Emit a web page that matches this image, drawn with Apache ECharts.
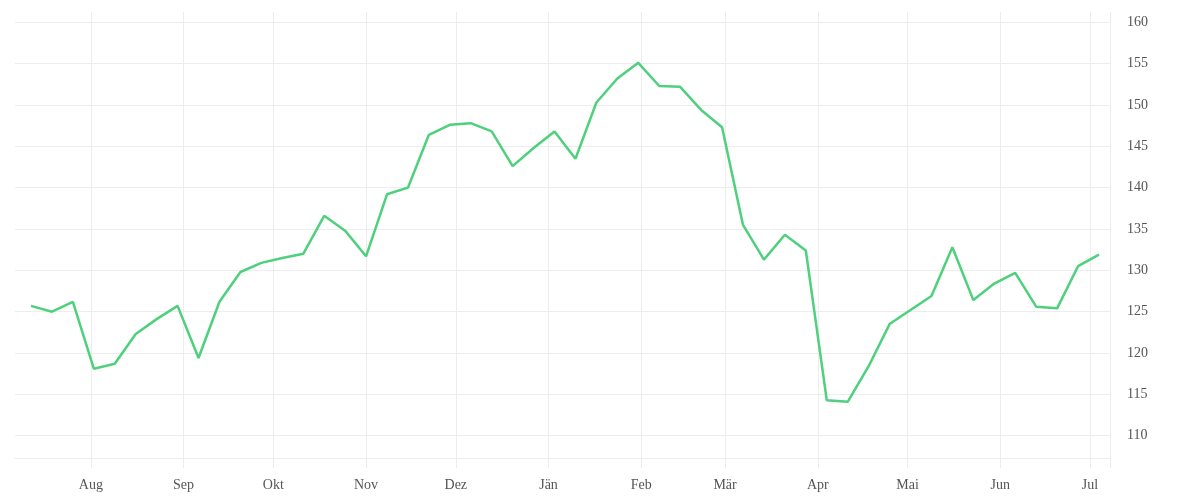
<!DOCTYPE html>
<html>
<head>
<meta charset="utf-8">
<script src="https://cdn.jsdelivr.net/npm/echarts@6/dist/echarts.min.js"></script>
<style>
	html, body { margin: 0; padding: 0; background: #fff; }
	#chart { width: 1200px; height: 500px; }
</style>
</head>
<body>
<div id="chart"></div>
<script>
/* Wochenwerte (Datum = Wochenbeginn) */
const weeks = [
	'2022-07-12', '2022-07-19', '2022-07-26', '2022-08-02', '2022-08-09', '2022-08-16',
	'2022-08-23', '2022-08-30', '2022-09-06', '2022-09-13', '2022-09-20', '2022-09-27',
	'2022-10-04', '2022-10-11', '2022-10-18', '2022-10-25', '2022-11-01', '2022-11-08',
	'2022-11-15', '2022-11-22', '2022-11-29', '2022-12-06', '2022-12-13', '2022-12-20',
	'2022-12-27', '2023-01-03', '2023-01-10', '2023-01-17', '2023-01-24', '2023-01-31',
	'2023-02-07', '2023-02-14', '2023-02-21', '2023-02-28', '2023-03-07', '2023-03-14',
	'2023-03-21', '2023-03-28', '2023-04-04', '2023-04-11', '2023-04-18', '2023-04-25',
	'2023-05-02', '2023-05-09', '2023-05-16', '2023-05-23', '2023-05-30', '2023-06-06',
	'2023-06-13', '2023-06-20', '2023-06-27', '2023-07-04'
];
const prices = [
	125.7, 125.0, 126.2, 118.1, 118.7, 122.3,
	124.1, 125.7, 119.4, 126.2, 129.8, 130.9,
	131.5, 132.0, 136.6, 134.8, 131.7, 139.2,
	140.0, 146.4, 147.6, 147.8, 146.8, 142.6,
	144.8, 146.8, 143.5, 150.3, 153.2, 155.1,
	152.3, 152.2, 149.4, 147.3, 135.5, 131.3,
	134.3, 132.4, 114.3, 114.1, 118.4, 123.5,
	125.2, 126.9, 132.8, 126.4, 128.4, 129.7,
	125.6, 125.4, 130.5, 131.9
];
/* Monatsbeschriftung (österreichisch) */
const monthNames = ['Jän', 'Feb', 'Mär', 'Apr', 'Mai', 'Jun', 'Jul', 'Aug', 'Sep', 'Okt', 'Nov', 'Dez'];
const monthTicks = [
	'2022-08-01', '2022-09-01', '2022-10-01', '2022-11-01', '2022-12-01', '2023-01-01',
	'2023-02-01', '2023-03-01', '2023-04-01', '2023-05-01', '2023-06-01', '2023-07-01'
];

const toTime = d => new Date(d + 'T00:00:00').getTime();
const xMin = new Date(2022, 6, 6, 15, 36).getTime();
const xMax = new Date(2023, 6, 7, 16, 20).getTime();
const tickValues = monthTicks.map(toTime);

const gridColor = '#ededed';
const font = 'Liberation Serif';

const chart = echarts.init(document.getElementById('chart'));
chart.setOption({
	animation: false,
	grid: { left: 15, right: 90, top: 12, bottom: 42 },
	xAxis: {
		type: 'value',
		min: xMin,
		max: xMax,
		axisLine: { show: true, lineStyle: { color: gridColor, width: 1 } },
		axisTick: { show: true, length: 10, lineStyle: { color: gridColor }, customValues: tickValues.concat([xMax]) },
		splitLine: { show: true, showMinLine: true, showMaxLine: true, lineStyle: { color: gridColor } },
		axisLabel: {
			customValues: tickValues,
			color: '#555',
			fontFamily: font,
			fontSize: 14,
			margin: 20,
			formatter: function (v) {
				return monthNames[new Date(v).getMonth()];
			}
		}
	},
	yAxis: {
		type: 'value',
		position: 'right',
		min: 107.3,
		max: 161.25,
		splitNumber: 10,
		axisLine: { show: false },
		axisTick: { show: false },
		splitLine: { show: true, showMaxLine: false, lineStyle: { color: gridColor } },
		axisLabel: {
			showMinLabel: false,
			showMaxLabel: false,
			color: '#555',
			fontFamily: font,
			fontSize: 14,
			margin: 17
		}
	},
	series: [{
		type: 'line',
		data: weeks.map((d, i) => [toTime(d), prices[i]]),
		showSymbol: false,
		lineStyle: { color: '#4ed07c', width: 2.5 },
		itemStyle: { color: '#4ed07c' }
	}]
});
</script>
</body>
</html>
